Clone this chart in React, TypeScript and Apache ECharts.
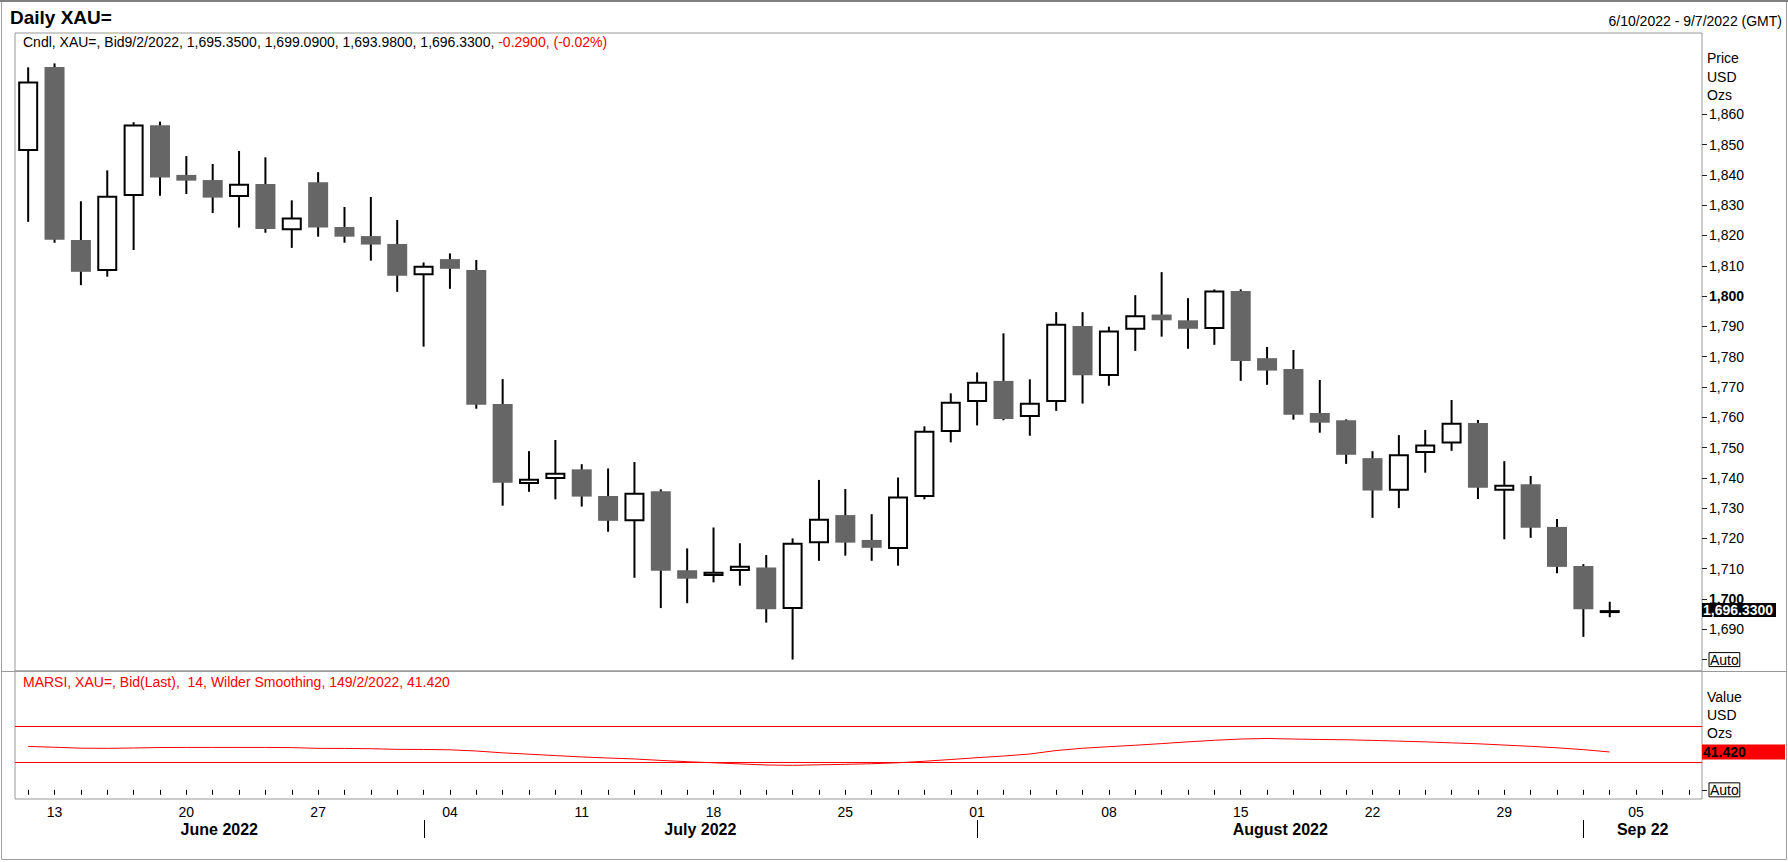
import React, { useEffect, useRef } from "react";
import * as echarts from "echarts";

// ---------- data ----------
const CATEGORIES = [
  "2022-06-10", "2022-06-13", "2022-06-14", "2022-06-15", "2022-06-16", "2022-06-17",
  "2022-06-20", "2022-06-21", "2022-06-22", "2022-06-23", "2022-06-24",
  "2022-06-27", "2022-06-28", "2022-06-29", "2022-06-30", "2022-07-01",
  "2022-07-04", "2022-07-05", "2022-07-06", "2022-07-07", "2022-07-08",
  "2022-07-11", "2022-07-12", "2022-07-13", "2022-07-14", "2022-07-15",
  "2022-07-18", "2022-07-19", "2022-07-20", "2022-07-21", "2022-07-22",
  "2022-07-25", "2022-07-26", "2022-07-27", "2022-07-28", "2022-07-29",
  "2022-08-01", "2022-08-02", "2022-08-03", "2022-08-04", "2022-08-05",
  "2022-08-08", "2022-08-09", "2022-08-10", "2022-08-11", "2022-08-12",
  "2022-08-15", "2022-08-16", "2022-08-17", "2022-08-18", "2022-08-19",
  "2022-08-22", "2022-08-23", "2022-08-24", "2022-08-25", "2022-08-26",
  "2022-08-29", "2022-08-30", "2022-08-31", "2022-09-01", "2022-09-02",
  "2022-09-05", "2022-09-06", "2022-09-07",
];

const TICK_LABELS = [
  "2022-06-13", "2022-06-20", "2022-06-27", "2022-07-04", "2022-07-11", "2022-07-18",
  "2022-07-25", "2022-08-01", "2022-08-08", "2022-08-15", "2022-08-22", "2022-08-29",
  "2022-09-05",
];

const MONTH_LABELS = ["June 2022", "July 2022", "August 2022", "Sep 22"];
const MONTH_STARTS = ["2022-06-10", "2022-07-01", "2022-08-01", "2022-09-01"];

const OPEN = [
  1847.9, 1875.6, 1818.5, 1808.3, 1833.0, 1856.4, 1840.0, 1838.3, 1832.7, 1837.0,
  1821.7, 1837.6, 1822.8, 1819.8, 1817.2, 1806.9, 1812.2, 1808.6, 1764.4, 1738.0,
  1739.6, 1742.8, 1734.0, 1725.7, 1735.6, 1709.5, 1707.6, 1709.2, 1710.4, 1696.7,
  1718.4, 1727.7, 1719.5, 1716.5, 1733.7, 1755.1, 1765.0, 1772.0, 1760.1, 1765.0,
  1790.1, 1773.6, 1788.9, 1793.9, 1792.0, 1789.1, 1801.7, 1779.5, 1775.9, 1761.4,
  1759.0, 1746.5, 1735.7, 1748.2, 1751.3, 1758.1, 1735.7, 1737.9, 1723.8, 1710.9,
  1695.35,
];
const CLOSE = [
  1870.8, 1818.6, 1808.0, 1833.1, 1856.6, 1839.1, 1838.1, 1832.5, 1837.1, 1822.1,
  1825.9, 1822.6, 1819.6, 1817.0, 1806.7, 1810.0, 1809.0, 1764.1, 1738.4, 1739.7,
  1741.7, 1733.8, 1725.8, 1735.1, 1709.3, 1706.7, 1709.0, 1711.0, 1696.6, 1718.6,
  1726.5, 1718.6, 1716.9, 1733.8, 1755.5, 1765.1, 1771.7, 1759.4, 1764.8, 1790.9,
  1773.9, 1788.6, 1793.7, 1792.0, 1789.2, 1801.8, 1778.6, 1775.4, 1760.8, 1758.2,
  1747.6, 1735.8, 1747.8, 1751.0, 1758.2, 1736.7, 1737.7, 1723.5, 1710.6, 1696.62,
  1696.33,
];
const LOW = [
  1824.5, 1817.6, 1803.6, 1806.4, 1815.2, 1833.1, 1833.7, 1827.4, 1822.6, 1820.9,
  1815.9, 1819.6, 1817.6, 1811.7, 1801.4, 1783.3, 1802.4, 1762.8, 1730.8, 1735.4,
  1732.9, 1730.5, 1722.2, 1707.0, 1697.0, 1698.6, 1705.5, 1704.4, 1692.2, 1680.0,
  1712.6, 1714.3, 1712.6, 1711.0, 1732.9, 1751.7, 1757.3, 1759.0, 1753.9, 1762.1,
  1764.5, 1770.4, 1781.9, 1786.6, 1782.6, 1783.9, 1772.0, 1770.7, 1759.2, 1754.9,
  1744.6, 1726.8, 1730.0, 1741.7, 1748.9, 1733.0, 1719.7, 1720.2, 1708.5, 1687.5,
  1693.98,
];
const HIGH = [
  1875.5, 1876.8, 1831.3, 1841.5, 1857.4, 1857.6, 1846.2, 1843.6, 1847.9, 1845.8,
  1831.6, 1840.9, 1829.4, 1832.7, 1825.1, 1811.1, 1814.1, 1811.9, 1772.6, 1748.8,
  1752.5, 1744.5, 1743.1, 1745.2, 1736.2, 1716.7, 1723.6, 1718.4, 1714.5, 1720.0,
  1739.3, 1736.3, 1728.0, 1740.1, 1757.0, 1767.9, 1774.8, 1787.7, 1772.5, 1794.7,
  1794.7, 1789.9, 1800.3, 1807.9, 1799.3, 1802.2, 1802.2, 1783.2, 1782.2, 1772.3,
  1759.3, 1748.8, 1754.1, 1755.8, 1765.7, 1759.1, 1745.5, 1740.6, 1726.4, 1711.5,
  1699.09,
];

const RSI = [
  47.5, 46.6, 45.6, 45.4, 45.8, 46.3, 46.4, 46.4, 46.4, 46.4,
  46.2, 45.4, 45.3, 45.0, 44.3, 44.2, 43.8, 42.5, 40.5, 39.0,
  37.5, 36.0, 34.8, 33.8, 32.2, 30.8, 29.6, 28.4, 27.2, 26.8,
  27.4, 27.9, 28.6, 29.6, 31.3, 33.2, 35.2, 37.0, 39.2, 43.0,
  45.5, 47.2, 48.8, 50.6, 52.5, 54.2, 55.6, 56.2, 55.6, 55.1,
  54.8, 54.1, 53.3, 52.5, 51.4, 50.4, 49.0, 47.6, 46.0, 44.0,
  41.42,
];

const PRICE_TICKS = [
  1680, 1690, 1700, 1710, 1720, 1730, 1740, 1750, 1760, 1770,
  1780, 1790, 1800, 1810, 1820, 1830, 1840, 1850, 1860,
];
const RSI_TICKS = [0];
const RSI_LEVELS = [70, 30];
const LAST_DATE = "9/2/2022";
const RSI_PERIOD = 14;

// ---------- layout ----------
const W = 1788;
const H = 862;
const GRID_LEFT = 15;
const GRID_RIGHT = 1702;
const PRICE_TOP = 33;
const PANE_SPLIT = 671;
const RSI_BOTTOM = 799;
const FONT = "Liberation Sans, Arial, sans-serif";
const BEAR = "#666666";

function renderCandle(params: any, api: any) {
  const i = api.value(0);
  const o = api.value(1);
  const c = api.value(2);
  const l = api.value(3);
  const h = api.value(4);
  const pO = api.coord([i, o]);
  const pC = api.coord([i, c]);
  const pL = api.coord([i, l]);
  const pH = api.coord([i, h]);
  const bw = Math.round(api.size([1, 0])[0] * 0.76);
  const cx = pO[0];
  const wick = {
    type: "line",
    shape: { x1: cx, y1: pH[1], x2: cx, y2: pL[1] },
    style: { stroke: "#000", lineWidth: 2 },
  };
  let body: any;
  if (c >= o) {
    const top = pC[1];
    const bot = pO[1];
    body = {
      type: "rect",
      shape: { x: cx - bw / 2 + 1, y: top + 1, width: bw - 2, height: Math.max(bot - top - 2, 0.8) },
      style: { fill: "#ffffff", stroke: "#000", lineWidth: 2 },
    };
  } else {
    const top = pO[1];
    const bot = pC[1];
    body = {
      type: "rect",
      shape: { x: cx - bw / 2, y: top, width: bw, height: Math.max(bot - top, 1) },
      style: { fill: BEAR },
    };
  }
  return { type: "group", children: [wick, body] };
}

function buildOption(): any {
  const candleData = OPEN.map((o, i) => [i, o, CLOSE[i], LOW[i], HIGH[i]]);
  return {
    animation: false,
    textStyle: { fontFamily: FONT },
    grid: [
      {
        left: GRID_LEFT, top: PRICE_TOP, width: GRID_RIGHT - GRID_LEFT, height: PANE_SPLIT - PRICE_TOP,
        show: true, borderColor: "#999999", borderWidth: 1, containLabel: false, outerBoundsMode: "none",
      },
      {
        left: GRID_LEFT, top: PANE_SPLIT, width: GRID_RIGHT - GRID_LEFT, height: RSI_BOTTOM - PANE_SPLIT,
        show: true, borderColor: "#999999", borderWidth: 1, containLabel: false, outerBoundsMode: "none",
      },
    ],
    xAxis: [
      { type: "category", gridIndex: 0, data: CATEGORIES, boundaryGap: true, show: false },
      {
        type: "category", gridIndex: 1, data: CATEGORIES, boundaryGap: true,
        axisLine: { show: false },
        axisTick: { show: true, interval: 0, alignWithLabel: true, length: 5, lineStyle: { color: "#000", width: 1 } },
        axisLabel: {
          interval: (_i: number, v: string) => TICK_LABELS.includes(v),
          formatter: (v: string) => v.slice(8),
          fontSize: 14, color: "#000", margin: 6, fontFamily: FONT,
        },
        splitLine: { show: false },
      },
    ],
    yAxis: [
      {
        type: "value", gridIndex: 0, position: "right", min: 1676.23, max: 1886.84,
        splitLine: { show: false }, axisLine: { show: false },
        axisTick: { show: true, customValues: PRICE_TICKS, length: 5, lineStyle: { color: "#222" } },
        axisLabel: {
          customValues: PRICE_TICKS, margin: 7, fontSize: 14, color: "#000", fontFamily: FONT,
          formatter: (v: number) => {
            if (v === PRICE_TICKS[0]) return "{auto|Auto}";
            const s = v.toLocaleString("en-US");
            return v % 100 === 0 ? `{b|${s}}` : s;
          },
          rich: {
            b: { fontWeight: "bold", fontSize: 14, color: "#000", fontFamily: FONT },
            auto: {
              fontSize: 14, color: "#000", fontFamily: FONT, borderColor: "#000", borderWidth: 1,
              padding: [0, 1, 0, 1], lineHeight: 13,
            },
          },
        },
      },
      {
        type: "value", gridIndex: 1, position: "right", min: -10, max: 130,
        splitLine: { show: false }, axisLine: { show: false },
        axisTick: { show: true, customValues: RSI_TICKS, length: 5, lineStyle: { color: "#222" } },
        axisLabel: {
          customValues: RSI_TICKS, margin: 7, fontSize: 14, color: "#000", fontFamily: FONT,
          formatter: () => "{auto|Auto}",
          rich: {
            auto: {
              fontSize: 14, color: "#000", fontFamily: FONT, borderColor: "#000", borderWidth: 1,
              padding: [0, 1, 0, 1], lineHeight: 13,
            },
          },
        },
      },
    ],
    series: [
      {
        type: "custom", name: "XAU=", xAxisIndex: 0, yAxisIndex: 0, data: candleData,
        encode: { x: 0, y: [1, 2, 3, 4] }, renderItem: renderCandle, silent: true, clip: true,
      },
      {
        type: "line", name: "MARSI", xAxisIndex: 1, yAxisIndex: 1, data: RSI,
        symbol: "none", silent: true, lineStyle: { color: "#ff0000", width: 1 },
        markLine: {
          silent: true, symbol: ["none", "none"], label: { show: false },
          lineStyle: { color: "#ff0000", width: 1, type: "solid" },
          emphasis: { disabled: true },
          data: RSI_LEVELS.map((v) => ({ yAxis: v })),
        },
      },
    ],
  };
}

function txt(text: string, x: number, y: number, opts: any = {}) {
  return {
    type: "text", x, y, z: 100, silent: true,
    style: {
      text, fill: opts.fill || "#000", fontSize: opts.fontSize || 14, fontFamily: FONT,
      fontWeight: opts.fontWeight || "normal", align: opts.align || "left", verticalAlign: "middle",
      rich: opts.rich,
    },
  };
}

function buildGraphics(chart: any): any[] {
  const last = OPEN.length - 1;
  const fmt4 = (v: number) => v.toLocaleString("en-US", { minimumFractionDigits: 4, maximumFractionDigits: 4 });
  const chg = CLOSE[last] - CLOSE[last - 1];
  const pct = (chg / CLOSE[last - 1]) * 100;
  const header =
    `Cndl, XAU=, Bid${LAST_DATE}, ${fmt4(OPEN[last])}, ${fmt4(HIGH[last])}, ${fmt4(LOW[last])}, ${fmt4(CLOSE[last])}, ` +
    `{r|${chg.toFixed(4)}, (${pct.toFixed(2)}%)}`;
  const rsiLast = RSI[RSI.length - 1];
  const rsiHeader = `MARSI, XAU=, Bid(Last),  ${RSI_PERIOD}, Wilder Smoothing, ${RSI_PERIOD}${LAST_DATE}, ${rsiLast.toFixed(3)}`;

  const xPix = (i: number) => chart.convertToPixel({ xAxisIndex: 1 }, i) as number;
  const yPrice = chart.convertToPixel({ yAxisIndex: 0 }, CLOSE[last]) as number;
  const yRsi = chart.convertToPixel({ yAxisIndex: 1 }, rsiLast) as number;

  const els: any[] = [
    {
      type: "rect", z: 0, silent: true,
      shape: { x: 1.5, y: 1.5, width: W - 3, height: 858 },
      style: { fill: "none", stroke: "#a0a0a0", lineWidth: 1 },
    },
    {
      type: "line", z: 1, silent: true,
      shape: { x1: 0, y1: 1, x2: W, y2: 1 },
      style: { stroke: "#808080", lineWidth: 2 },
    },
    {
      type: "line", z: 50, silent: true,
      shape: { x1: 1.5, y1: PANE_SPLIT + 0.5, x2: W - 1, y2: PANE_SPLIT + 0.5 },
      style: { stroke: "#999999", lineWidth: 1 },
    },
    txt("Daily XAU=", 10, 17, { fontSize: 19, fontWeight: "bold" }),
    txt("6/10/2022 - 9/7/2022 (GMT)", 1782, 21, { align: "right" }),
    txt(header, 23, 42, { rich: { r: { fill: "#ff0000", color: "#ff0000", fontSize: 14, fontFamily: FONT } } }),
    txt(rsiHeader, 23, 682, { fill: "#ff0000" }),
    txt("Price", 1707, 58, {}),
    txt("USD", 1707, 76.5, {}),
    txt("Ozs", 1707, 94.5, {}),
    txt("Value", 1707, 697, {}),
    txt("USD", 1707, 715, {}),
    txt("Ozs", 1707, 733, {}),
    {
      type: "rect", z: 90, silent: true,
      shape: { x: GRID_RIGHT, y: yPrice - 7, width: 74, height: 14 },
      style: { fill: "#000" },
    },
    txt(CLOSE[last].toLocaleString("en-US", { minimumFractionDigits: 4 }), 1703, yPrice, { fill: "#fff", fontWeight: "bold" }),
    {
      type: "rect", z: 90, silent: true,
      shape: { x: GRID_RIGHT, y: yRsi - 7.5, width: 83, height: 15 },
      style: { fill: "#ff0000" },
    },
    txt(rsiLast.toFixed(3), 1703, yRsi, { fontWeight: "bold" }),
  ];

  const starts = MONTH_STARTS.map((d) => CATEGORIES.indexOf(d));
  starts.forEach((s, k) => {
    const left = k === 0 ? GRID_LEFT : xPix(s);
    const right = k === starts.length - 1 ? GRID_RIGHT : xPix(starts[k + 1]);
    if (k > 0) {
      els.push({
        type: "line", z: 100, silent: true,
        shape: { x1: Math.round(left) + 0.5, y1: 820, x2: Math.round(left) + 0.5, y2: 838 },
        style: { stroke: "#000", lineWidth: 1 },
      });
    }
    els.push({
      type: "text", z: 100, silent: true, x: (left + right) / 2, y: 829,
      style: {
        text: MONTH_LABELS[k], fill: "#000", fontSize: 16, fontWeight: "bold", fontFamily: FONT,
        align: "center", verticalAlign: "middle",
      },
    });
  });
  return els;
}

export default function App() {
  const ref = useRef<HTMLDivElement>(null);
  useEffect(() => {
    document.body.style.margin = "0";
    const chart = echarts.init(ref.current as HTMLDivElement, null, { renderer: "svg" });
    chart.setOption(buildOption());
    chart.setOption({ graphic: { elements: buildGraphics(chart) } });
    return () => chart.dispose();
  }, []);
  return <div ref={ref} style={{ width: W, height: H, background: "#fff" }} />;
}
